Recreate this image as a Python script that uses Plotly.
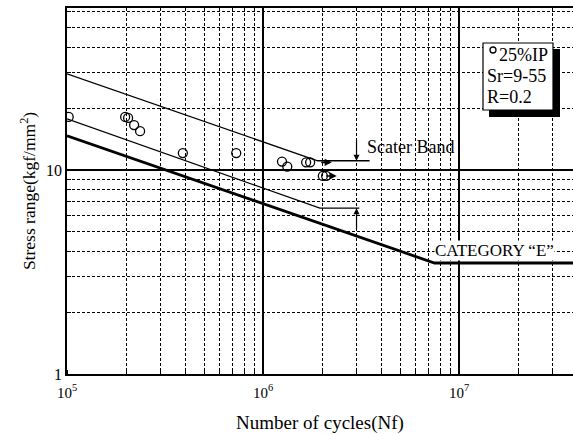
import plotly.graph_objects as go
import math

# ---- data ----
cycles = [1.02e5, 1.98e5, 2.05e5, 2.2e5, 2.36e5, 3.9e5, 7.3e5, 1.25e6, 1.33e6, 1.66e6, 1.74e6, 2.02e6, 2.1e6]
stress = [18.2, 18.2, 18.0, 16.6, 15.5, 12.1, 12.1, 11.0, 10.4, 10.9, 10.9, 9.35, 9.35]

band_upper_x = [1e5, 1.9e6, 3.5e6]
band_upper_y = [29.6, 11.1, 11.1]
band_lower_x = [1e5, 1.95e6, 3.1e6]
band_lower_y = [17.8, 6.5, 6.5]
cat_e_x = [1e5, 7.5e6, 4e7]
cat_e_y = [14.7, 3.5, 3.5]

runout_x = [2.0e6, 2.12e6]
runout_y = [10.9, 9.35]

x_tickvals = [1e5, 1e6, 1e7]
x_ticktext = ["10<sup>5</sup>", "10<sup>6</sup>", "10<sup>7</sup>"]
y_tickvals = [1, 10]
y_ticktext = ["1", "10"]

FONT = "Liberation Serif"

fig = go.Figure()
fig.add_trace(go.Scatter(x=band_upper_x, y=band_upper_y, mode="lines",
                         line=dict(color="black", width=1.3), showlegend=False))
fig.add_trace(go.Scatter(x=band_lower_x, y=band_lower_y, mode="lines",
                         line=dict(color="black", width=1.3), showlegend=False))
fig.add_trace(go.Scatter(x=cat_e_x, y=cat_e_y, mode="lines",
                         line=dict(color="black", width=2.8), showlegend=False))
fig.add_trace(go.Scatter(x=cycles, y=stress, mode="markers",
                         marker=dict(symbol="circle-open", size=9, color="black",
                                     line=dict(width=1.3)),
                         showlegend=False))

# run-out arrows
for rx, ry in zip(runout_x, runout_y):
    fig.add_annotation(x=math.log10(rx) + 0.05, y=math.log10(ry), ax=-12, ay=0,
                       text="", showarrow=True, arrowhead=2, arrowsize=0.9,
                       arrowwidth=1.6, arrowcolor="black")

# scatter band arrows
fig.add_annotation(x=math.log10(3.0e6), y=math.log10(band_upper_y[-1]), ax=0, ay=-22,
                   text="", showarrow=True, arrowhead=2, arrowsize=1, arrowwidth=1.2,
                   arrowcolor="black")
fig.add_annotation(x=math.log10(3.0e6), y=math.log10(band_lower_y[-1]), ax=0, ay=22,
                   text="", showarrow=True, arrowhead=2, arrowsize=1, arrowwidth=1.2,
                   arrowcolor="black")

W, H = 573, 434
L, R, T, B = 67, 0, 8, 60
pw, ph = W - L - R, H - T - B


def px(x):
    return (x - L) / pw


def py(y):
    return (H - B - y) / ph


fig.add_annotation(x=px(410), y=py(147), xref="paper", yref="paper", text="Scater Band",
                   showarrow=False, xanchor="center", yanchor="middle",
                   font=dict(family=FONT, size=18, color="black"))
fig.add_annotation(x=px(494), y=py(250), xref="paper", yref="paper", text="CATEGORY \u201cE\u201d",
                   showarrow=False, bgcolor="white", borderpad=0, xanchor="center", yanchor="middle",
                   font=dict(family=FONT, size=17, color="black"))

# legend box with shadow
fig.add_shape(type="rect", xref="paper", yref="paper", x0=px(489), x1=px(560), y0=py(117), y1=py(49),
              fillcolor="black", line=dict(width=0))
fig.add_shape(type="rect", xref="paper", yref="paper", x0=px(483), x1=px(553), y0=py(110), y1=py(43),
              fillcolor="white", line=dict(color="black", width=1.2))
fig.add_shape(type="circle", xref="paper", yref="paper", xsizemode="pixel", ysizemode="pixel",
              xanchor=px(493), yanchor=py(50), x0=-3, x1=3, y0=-3, y1=3,
              line=dict(color="black", width=1.3), fillcolor="white")
legend_lines = [("25%IP", 497, 55), ("Sr=9-55", 485, 76), ("R=0.2", 485, 97)]
for txt, lx, ly in legend_lines:
    fig.add_annotation(x=px(lx), y=py(ly), xref="paper", yref="paper", text=txt, showarrow=False,
                       xanchor="left", yanchor="middle",
                       font=dict(family=FONT, size=18, color="black"))

grid_minor = dict(showgrid=True, gridcolor="black", griddash="3px,2px", gridwidth=0.8,
                  ticks="inside", ticklen=4, tickcolor="black", dtick="D1")

fig.update_xaxes(type="log", range=[5, 5 + pw / 196.0], tickvals=x_tickvals, ticktext=x_ticktext,
                 showgrid=True, gridcolor="black", gridwidth=1.5, zeroline=False,
                 showline=True, linecolor="black", linewidth=1.5, mirror=True,
                 ticks="", minor=grid_minor, automargin=False, ticklabelstandoff=4,
                 tickfont=dict(family=FONT, size=15, color="black"),
                 title=dict(text="Number of cycles(Nf)", font=dict(family=FONT, size=19, color="black"),
                            standoff=16))
fig.update_yaxes(type="log", range=[0, ph / 204.0], tickvals=y_tickvals, ticktext=y_ticktext,
                 showgrid=True, gridcolor="black", gridwidth=1.5, zeroline=False,
                 showline=True, linecolor="black", linewidth=1.5,
                 ticks="", minor=grid_minor, automargin=False,
                 tickfont=dict(family=FONT, size=16, color="black"),
                 title=dict(text="Stress range(kgf/mm<sup>2</sup>)",
                            font=dict(family=FONT, size=17.5, color="black"), standoff=6))

fig.update_layout(width=W, height=H, margin=dict(l=L, r=R, t=T, b=B),
                  plot_bgcolor="white", paper_bgcolor="white", showlegend=False)

fig.write_html("out.html", config={"displayModeBar": False},
               post_script="document.body.style.margin='0';")
